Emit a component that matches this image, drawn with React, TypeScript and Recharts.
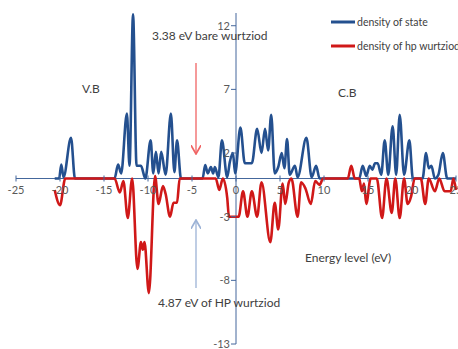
import { LineChart, Line, XAxis, YAxis, CartesianGrid } from 'recharts'

// energy (eV) / density pairs for the bare wurtziod DOS (blue)
const bareEnergy = [
  -20.6, -20.1, -19.85, -19.6, -18.75, -18.3, -13.8, -13.4, -13.05, -12.4, -12.1, -11.7, -11.3, -10.8, -10.3,
  -9.7, -9.4, -9.1, -8.8, -8.5, -8.0, -7.4, -7.0, -6.7, -6.25, -3.8, -3.5, -3.2, -2.85, -2.6, -2.4, -2.0, -1.6,
  -1.0, -0.7, -0.35, -0.1, 0.5, 1.0, 1.8, 2.4, 2.9, 3.3, 3.65, 4.0, 4.4, 4.8, 5.2, 5.5, 5.8, 6.1, 6.7, 7.0, 8.0,
  8.6, 9.1, 9.5, 14.0, 14.4, 14.8, 15.2, 15.5, 15.8, 16.1, 16.5, 16.9, 17.3, 17.8, 18.2, 18.6, 19.1, 19.7, 20.1,
  21.2, 21.6, 21.9, 22.2, 22.6, 23.0, 23.5, 24.0, 25.0,
]
const bareDos = [
  0, 0, 1.1, 0.1, 3.2, 0, 0, 1.1, 0.4, 5.1, 1.0, 12.9, 1.0, 1.0, 0,
  3.0, 0.4, 2.1, 0.4, 2.1, 0.3, 5.1, 0.5, 3.0, 0, 0, 1.05, 0.4, 0.9, 0.4, 0.9, 0.1, 3.0,
  0.1, 1.3, 2.0, 0.4, 4.0, 1.2, 1.2, 3.9, 2.0, 3.9, 2.2, 5.0, 0.4, 0.9, 2.0, 0.8, 3.1, 0.3, 1.0, 0.1, 3.2,
  0.1, 1.0, 0, 0, 1.0, 0.2, 1.0, 0.7, 1.2, 1.2, 0.3, 3.0, 0.3, 4.1, 0.3, 5.0, 0.3, 3.0, 0,
  0, 2.0, 0.8, 1.0, 0, 0.3, 2.0, 0, 0,
]

// energy (eV) / density pairs for the hp wurtziod DOS (red, drawn downward)
const hpEnergy = [
  -20.6, -20.0, -19.4, -13.8, -13.2, -12.8, -12.3, -11.8, -11.2, -10.8, -10.6, -10.4, -9.9, -9.2, -8.8, -8.3,
  -8.0, -7.5, -7.1, -6.7, -6.4, -2.3, -1.9, -1.5, -1.0, -0.8, 0.3, 0.8, 1.3, 1.8, 2.4, 2.9, 3.9, 4.4, 4.8, 5.3,
  5.6, 6.0, 6.3, 7.0, 7.4, 7.9, 8.5, 9.0, 9.5, 9.9, 12.7, 13.1, 13.5, 14.0, 14.3, 14.55, 14.8, 15.3, 16.0, 16.6,
  17.1, 17.7, 18.1, 18.6, 19.1, 19.5, 19.9, 20.3, 21.0, 21.5, 21.9, 22.6, 23.1, 23.7, 24.4, 24.7, 25.0,
]
const hpDos = [
  -0.9, -2.1, 0, 0, -1.1, -0.2, -3.1, 0, -7.1, -5.0, -5.6, -5.0, -9.0, 0.2, -2.0, -0.6,
  -1.2, -3.0, -1.9, -1.9, 0, 0, -0.9, 0, -1.5, -3.0, -3.0, -1.0, -3.0, -1.0, -3.0, -0.3, -5.0, -1.9, -4.0, -0.4,
  -2.0, -0.3, 0, -3.0, -0.3, -0.8, -2.0, -0.2, -0.5, 0, 0, 1.0, 0, 0, -1.0, -0.4, -2.0, 0, 0, -3.1,
  0, -2.7, 0, -3.1, 0, -2.0, -1.4, 0, 0, -2.0, 0, -1.0, 0, -1.0, -1.0, 0, -0.9,
]

const xTicks = [-25, -20, -15, -10, -5, 0, 5, 10, 15, 20, 25]
const yTicks = [-13, -8, -3, 2, 7, 12]

const bareSeries = bareEnergy.map((energy, i) => ({ energy, dos: bareDos[i] }))
const hpSeries = hpEnergy.map((energy, i) => ({ energy, dos: hpDos[i] }))

const W = 458
const H = 349
// axes get 1px each (a zero-size axis draws no ticks), so the plot spans 16..456 x 13..344
const M = { top: 13, right: 2, bottom: 4, left: 15 }
const PLOT_LEFT = M.left + 1
const PLOT_W = W - PLOT_LEFT - M.right
const PLOT_H = H - M.top - M.bottom - 1
// the axes cross at the origin, not at the plot edges
const ZERO_X = PLOT_LEFT + (PLOT_W * 25) / 50
const ZERO_Y = M.top + (PLOT_H * 13) / 26

const AXIS = '#44679c'
const BLUE = '#24508f'
const RED = '#d01818'
const FONT = 'Lato, "Noto Sans", sans-serif'
const TEXT = '#404040'

function XTick({ x, payload }: any) {
  return (
    <g>
      <line x1={x} x2={x} y1={ZERO_Y - 3} y2={ZERO_Y + 3} stroke={AXIS} />
      <text x={x} y={ZERO_Y + 15} textAnchor="middle" fontSize={11} fill="#595959" fontFamily={FONT}>
        {payload.value}
      </text>
    </g>
  )
}

function YTick({ y, payload }: any) {
  return (
    <g>
      <line x1={ZERO_X - 5} x2={ZERO_X} y1={y} y2={y} stroke={AXIS} />
      <text x={ZERO_X - 6} y={y + 4} textAnchor="end" fontSize={11} fill="#595959" fontFamily={FONT}>
        {payload.value}
      </text>
    </g>
  )
}

export default function App() {
  return (
    <div style={{ position: 'absolute', left: 0, top: 0, width: W, height: H, background: '#fff' }}>
      <LineChart width={W} height={H} margin={M}>
        <CartesianGrid horizontalValues={[0]} verticalValues={[0]} stroke={AXIS} strokeWidth={1} />
        <XAxis
          dataKey="energy"
          type="number"
          domain={[-25, 25]}
          ticks={xTicks}
          height={1}
          axisLine={false}
          tickLine={false}
          tick={<XTick />}
          interval={0}
        />
        <YAxis
          type="number"
          domain={[-13, 13]}
          ticks={yTicks}
          width={1}
          axisLine={false}
          tickLine={false}
          tick={<YTick />}
          interval={0}
        />
        <Line
          data={bareSeries}
          dataKey="dos"
          type="monotone"
          stroke={BLUE}
          strokeWidth={2.6}
          dot={false}
          isAnimationActive={false}
        />
        <Line
          data={hpSeries}
          dataKey="dos"
          type="monotone"
          stroke={RED}
          strokeWidth={2.6}
          dot={false}
          isAnimationActive={false}
        />
      </LineChart>
      <svg
        width={W}
        height={H}
        style={{ position: 'absolute', left: 0, top: 0, pointerEvents: 'none' }}
        fontFamily={FONT}
        fill={TEXT}
      >
        <defs>
          <marker id="headRed" markerWidth="8" markerHeight="8" refX="7" refY="4" orient="auto">
            <path d="M0,0 L7,4 L0,8" fill="none" stroke="#f06464" strokeWidth="1.3" />
          </marker>
          <marker id="headBlue" markerWidth="8" markerHeight="8" refX="7" refY="4" orient="auto">
            <path d="M0,0 L7,4 L0,8" fill="none" stroke="#9cb2d6" strokeWidth="1.3" />
          </marker>
        </defs>
        {/* legend */}
        <line x1={331} x2={355} y1={22} y2={22} stroke={BLUE} strokeWidth={3} />
        <text x={357} y={26} fontSize={10.5}>density of state</text>
        <line x1={331} x2={355} y1={46} y2={46} stroke={RED} strokeWidth={3} />
        <text x={357} y={50} fontSize={10.5}>density of hp wurtziod</text>

        <text x={152} y={40} fontSize={12}>3.38 eV bare wurtziod</text>
        <line x1={196} x2={196} y1={63} y2={154} stroke="#f06464" strokeWidth={1.3} markerEnd="url(#headRed)" />
        <text x={82} y={93} fontSize={12}>V.B</text>
        <text x={338} y={97} fontSize={12}>C.B</text>
        <text x={305} y={262} fontSize={12}>Energy level (eV)</text>
        <line x1={196} x2={196} y1={288} y2={220} stroke="#9cb2d6" strokeWidth={1.3} markerEnd="url(#headBlue)" />
        <text x={158} y={307} fontSize={12}>4.87 eV of HP wurtziod</text>
      </svg>
    </div>
  )
}
